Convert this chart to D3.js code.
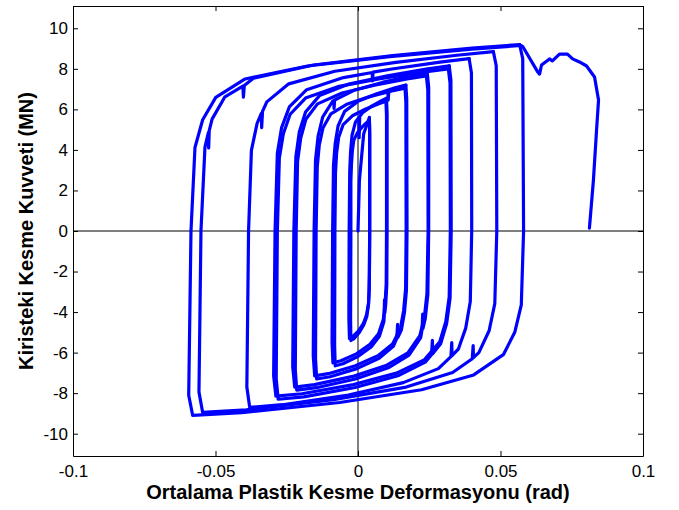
<!DOCTYPE html>
<html>
<head>
<meta charset="utf-8">
<script src="https://cdn.jsdelivr.net/npm/d3@7"></script>
<style>
  body { margin: 0; background: #fff; }
  text { font-family: "Liberation Sans", Arial, sans-serif; }
</style>
</head>
<body>
<div id="chart"></div>
<script>
// tick values
var xTicks = [-0.1, -0.05, 0, 0.05, 0.1];
var yTicks = [-10, -8, -6, -4, -2, 0, 2, 4, 6, 8, 10];

// hysteresis data, [deformation (rad), shear force (MN)], one cycle per array
var initialBranch = [[0, 0], [0.0005, 2.5], [0.0020, 4.8], [0.0040, 5.6]];
var cycle01 = [[0.0040, 5.6], [0.0041, 4.9], [0.0041, 0], [0.0040, -2.16], [0.0039, -2.97], [0.0037, -3.62], [0.0031, -4.21], [0.0020, -4.64], [0.0004, -5.02], [-0.0015, -5.32], [-0.0025, -5.4],
  [-0.0026, -4.4], [-0.0025, 0], [-0.0025, 2.45], [-0.0023, 3.27], [-0.0020, 3.92], [-0.0015, 4.47], [-0.0002, 4.85], [0.0014, 5.12], [0.0030, 5.34], [0.0040, 5.45]];
var cycle02 = [[0.0040, 5.45], [0.0041, 4.75], [0.0041, 0], [0.0040, -2.12], [0.0039, -2.92], [0.0037, -3.55], [0.0030, -4.13], [0.0019, -4.56], [0.0002, -4.93], [-0.0020, -5.22], [-0.0030, -5.3],
  [-0.0032, -4.3], [-0.0031, 0], [-0.0029, 2.95], [-0.0026, 3.93], [-0.0021, 4.72], [-0.0009, 5.37], [0.0003, 5.6], [0.0004, 4.6], [0.0006, 5.65], [0.0016, 5.83], [0.0048, 6.16], [0.0081, 6.42], [0.0100, 6.55]];
var cycle03 = [[0.0100, 6.55], [0.0102, 5.85], [0.0102, 0], [0.0101, -2.66], [0.0097, -3.66], [0.0094, -4.05], [0.0093, -3.4], [0.0092, -4.1], [0.0091, -4.46], [0.0075, -5.19], [0.0046, -5.72], [0.0001, -6.18], [-0.0053, -6.55], [-0.0080, -6.65],
  [-0.0082, -5.65], [-0.0081, 0], [-0.0079, 2.88], [-0.0075, 3.84], [-0.0068, 4.61], [-0.0052, 5.25], [-0.0018, 5.70], [0.0027, 6.02], [0.0071, 6.27], [0.0098, 6.4]];
var cycle04 = [[0.0098, 6.4], [0.0100, 5.7], [0.0100, 0], [0.0099, -2.6], [0.0095, -3.58], [0.0089, -4.36], [0.0072, -5.07], [0.0042, -5.59], [-0.0004, -6.05], [-0.0060, -6.40], [-0.0088, -6.5],
  [-0.0091, -5.5], [-0.0089, 0], [-0.0086, 3.24], [-0.0080, 4.32], [-0.0070, 5.18], [-0.0047, 5.9], [0.0002, 6.41], [0.0066, 6.77], [0.0130, 7.06], [0.0168, 7.2]];
var cycle05 = [[0.0168, 7.2], [0.0171, 6.5], [0.0172, 0], [0.0170, -2.92], [0.0163, -4.02], [0.0152, -4.89], [0.0140, -5.25], [0.0139, -4.6], [0.0136, -5.3], [0.0124, -5.69], [0.0074, -6.28], [-0.0004, -6.79], [-0.0098, -7.19], [-0.0145, -7.3],
  [-0.0149, -6.3], [-0.0147, 0], [-0.0143, 3.17], [-0.0136, 4.23], [-0.0123, 5.08], [-0.0095, 5.78], [-0.0037, 6.27], [0.0041, 6.63], [0.0105, 6.86], [0.0106, 6.45], [0.0108, 6.87], [0.0119, 6.91], [0.0165, 7.05]];
var cycle06 = [[0.0165, 7.05], [0.0168, 6.35], [0.0169, 0], [0.0167, -2.86], [0.0160, -3.93], [0.0149, -4.79], [0.0121, -5.58], [0.0070, -6.15], [-0.0009, -6.65], [-0.0104, -7.04], [-0.0152, -7.15],
  [-0.0157, -6.15], [-0.0154, 0], [-0.0149, 3.51], [-0.0140, 4.68], [-0.0124, 5.62], [-0.0089, 6.40], [-0.0085, 6.43], [-0.0084, 6.05], [-0.0082, 6.46], [-0.0014, 6.94], [0.0085, 7.33], [0.0184, 7.64], [0.0243, 7.8]];
var cycle07 = [[0.0243, 7.8], [0.0248, 7.1], [0.0248, 0], [0.0245, -3.14], [0.0236, -4.32], [0.0228, -4.8], [0.0227, -4.1], [0.0225, -4.85], [0.0220, -5.26], [0.0179, -6.12], [0.0106, -6.75], [-0.0009, -7.3], [-0.0146, -7.73], [-0.0215, -7.85],
  [-0.0220, -6.85], [-0.0217, 0], [-0.0212, 3.44], [-0.0201, 4.59], [-0.0183, 5.51], [-0.0142, 6.27], [-0.0056, 6.81], [0.0058, 7.19], [0.0172, 7.5], [0.0240, 7.65]];
var cycle08 = [[0.0240, 7.65], [0.0245, 6.95], [0.0246, 0], [0.0242, -3.08], [0.0233, -4.24], [0.0217, -5.16], [0.0175, -6.01], [0.0101, -6.62], [-0.0014, -7.16], [-0.0153, -7.58], [-0.0222, -7.7],
  [-0.0229, -6.7], [-0.0225, 0], [-0.0218, 3.67], [-0.0206, 4.89], [-0.0184, 5.87], [-0.0135, 6.68], [-0.0032, 7.25], [0.0103, 7.66], [0.0239, 7.99], [0.0320, 8.15]];
var cycle09 = [[0.0320, 8.15], [0.0326, 7.45], [0.0327, 0], [0.0323, -3.32], [0.0311, -4.57], [0.0290, -5.56], [0.0262, -6.05], [0.0261, -5.4], [0.0258, -6.1], [0.0236, -6.47], [0.0140, -7.14], [-0.0010, -7.72], [-0.0190, -8.18], [-0.0280, -8.3],
  [-0.0287, -7.3], [-0.0283, 0], [-0.0276, 3.6], [-0.0262, 4.8], [-0.0238, 5.76], [-0.0184, 6.56], [-0.0071, 7.12], [0.0078, 7.52], [0.0227, 7.84], [0.0317, 8.0]];
var cycle10 = [[0.0317, 8.0], [0.0323, 7.3], [0.0324, 0], [0.0320, -3.26], [0.0308, -4.48], [0.0287, -5.46], [0.0232, -6.36], [0.0135, -7.01], [-0.0016, -7.58], [-0.0197, -8.03], [-0.0288, -8.15],
  [-0.0296, -7.15], [-0.0291, 0], [-0.0283, 3.83], [-0.0268, 5.1], [-0.0241, 6.12], [-0.0180, 6.97], [-0.0051, 7.57], [0.0050, 7.82], [0.0051, 7.4], [0.0053, 7.84], [0.0119, 7.99], [0.0288, 8.33], [0.0390, 8.5]];
var cycle11 = [[0.0390, 8.5], [0.0398, 7.8], [0.0399, 0], [0.0394, -3.48], [0.0378, -4.79], [0.0352, -5.83], [0.0330, -6.15], [0.0329, -5.5], [0.0326, -6.2], [0.0282, -6.79], [0.0159, -7.48], [-0.0034, -8.09], [-0.0265, -8.57], [-0.0380, -8.7],
  [-0.0390, -7.7], [-0.0384, 0], [-0.0374, 3.98], [-0.0354, 5.31], [-0.0339, 5.8], [-0.0338, 5.1], [-0.0335, 5.9], [-0.0320, 6.37], [-0.0243, 7.26], [-0.0081, 7.88], [0.0133, 8.32], [0.0347, 8.67], [0.0475, 8.85]];
var cycle12 = [[0.0475, 8.85], [0.0485, 8.15], [0.0487, 0], [0.0480, -3.58], [0.0460, -4.92], [0.0424, -6.0], [0.0405, -6.25], [0.0404, -5.65], [0.0401, -6.3], [0.0332, -6.98], [0.0169, -7.7], [-0.0086, -8.32], [-0.0392, -8.82], [-0.0545, -8.95],
  [-0.0558, -7.95], [-0.0551, 0], [-0.0537, 4.14], [-0.0525, 4.85], [-0.0524, 4.1], [-0.0522, 4.95], [-0.0512, 5.52], [-0.0467, 6.62], [-0.0404, 7.15], [-0.0402, 6.6], [-0.0399, 7.18], [-0.0367, 7.54], [-0.0156, 8.19], [0.0122, 8.65], [0.0400, 9.02], [0.0567, 9.2]];
var cycle13 = [[0.0567, 9.2], [0.0578, 8.5], [0.0581, 0], [0.0573, -3.64], [0.0550, -5.0], [0.0510, -6.1], [0.0406, -7.1], [0.0223, -7.83], [-0.0064, -8.46], [-0.0408, -8.96], [-0.0580, -9.1],
  [-0.0594, -8.1], [-0.0586, 0], [-0.0572, 4.12], [-0.0545, 5.49], [-0.0499, 6.59], [-0.0396, 7.5], [-0.0177, 8.14], [0.0111, 8.6], [0.0399, 8.97], [0.0572, 9.15]];
var finalBranch = [[0.0572, 9.15], [0.0578, 9.1], [0.0631, 7.84], [0.0637, 7.74], [0.0644, 8.19], [0.0672, 8.49], [0.0682, 8.39], [0.0707, 8.73], [0.0735, 8.73], [0.0753, 8.49],
  [0.0777, 8.34], [0.0802, 8.14], [0.0830, 7.6], [0.0844, 6.46], [0.0837, 4.97], [0.0826, 2.5], [0.0812, 0.14]];

var allCycles = [initialBranch, cycle01, cycle02, cycle03, cycle04, cycle05, cycle06, cycle07,
  cycle08, cycle09, cycle10, cycle11, cycle12, cycle13, finalBranch];

var width = 679, height = 510;
var margin = {left: 73, right: 36, top: 6, bottom: 54};

var svg = d3.select("#chart").append("svg")
  .attr("width", width)
  .attr("height", height);

var xScale = d3.scaleLinear().domain([-0.1, 0.1]).range([margin.left, width - margin.right]);
var yScale = d3.scaleLinear().domain([-11.1, 11.1]).range([height - margin.bottom, margin.top]);

var x0 = xScale.range()[0], x1 = xScale.range()[1];
var y0 = yScale.range()[0], y1 = yScale.range()[1];

// zero lines
svg.append("line").attr("x1", xScale(0)).attr("x2", xScale(0)).attr("y1", y1).attr("y2", y0)
  .attr("stroke", "#000").attr("stroke-width", 1);
svg.append("line").attr("x1", x0).attr("x2", x1).attr("y1", yScale(0)).attr("y2", yScale(0))
  .attr("stroke", "#000").attr("stroke-width", 1);

// loops
var line = d3.line()
  .x(function(d){ return xScale(d[0]); })
  .y(function(d){ return yScale(d[1]); });

svg.append("g").selectAll("path")
  .data(allCycles)
  .enter()
  .append("path")
    .attr("d", line)
    .attr("fill", "none")
    .attr("stroke", "#0000ff")
    .attr("stroke-width", 3.2)
    .attr("stroke-linejoin", "round")
    .attr("stroke-linecap", "round");

// axes, ticks pointing inward on all four sides (plain hyphen for minus)
var fmt = function(d){ return d === 0 ? "0" : String(d); };

var xAxis = d3.axisBottom(xScale).tickValues(xTicks).tickFormat(fmt).tickSizeInner(-5).tickSizeOuter(0).tickPadding(9);
var xAxisTop = d3.axisTop(xScale).tickValues(xTicks).tickFormat("").tickSizeInner(-5).tickSizeOuter(0);
var yAxis = d3.axisLeft(yScale).tickValues(yTicks).tickFormat(fmt).tickSizeInner(-5).tickSizeOuter(0).tickPadding(5);
var yAxisRight = d3.axisRight(yScale).tickValues(yTicks).tickFormat("").tickSizeInner(-5).tickSizeOuter(0);

function styleAxis(g){
  g.select(".domain").attr("stroke", "#000").attr("stroke-width", 1);
  g.selectAll(".tick line").attr("stroke", "#000");
  g.selectAll("text").attr("font-size", "17px").attr("fill", "#000")
    .attr("font-family", "'Liberation Sans', Arial, sans-serif");
}

svg.append("g").attr("transform", "translate(0," + y0 + ")").call(xAxis).call(styleAxis);
svg.append("g").attr("transform", "translate(0," + y1 + ")").call(xAxisTop).call(styleAxis);
svg.append("g").attr("transform", "translate(" + x0 + ",0)").call(yAxis).call(styleAxis);
svg.append("g").attr("transform", "translate(" + x1 + ",0)").call(yAxisRight).call(styleAxis);

// axis titles
svg.append("text")
  .attr("x", (x0 + x1) / 2)
  .attr("y", 499)
  .attr("text-anchor", "middle")
  .attr("font-size", "20px")
  .attr("font-weight", "bold")
  .text("Ortalama Plastik Kesme Deformasyonu (rad)");

svg.append("text")
  .attr("transform", "translate(33,231) rotate(-90)")
  .attr("text-anchor", "middle")
  .attr("font-size", "20px")
  .attr("font-weight", "bold")
  .text("Kiristeki Kesme Kuvveti (MN)");
</script>
</body>
</html>
